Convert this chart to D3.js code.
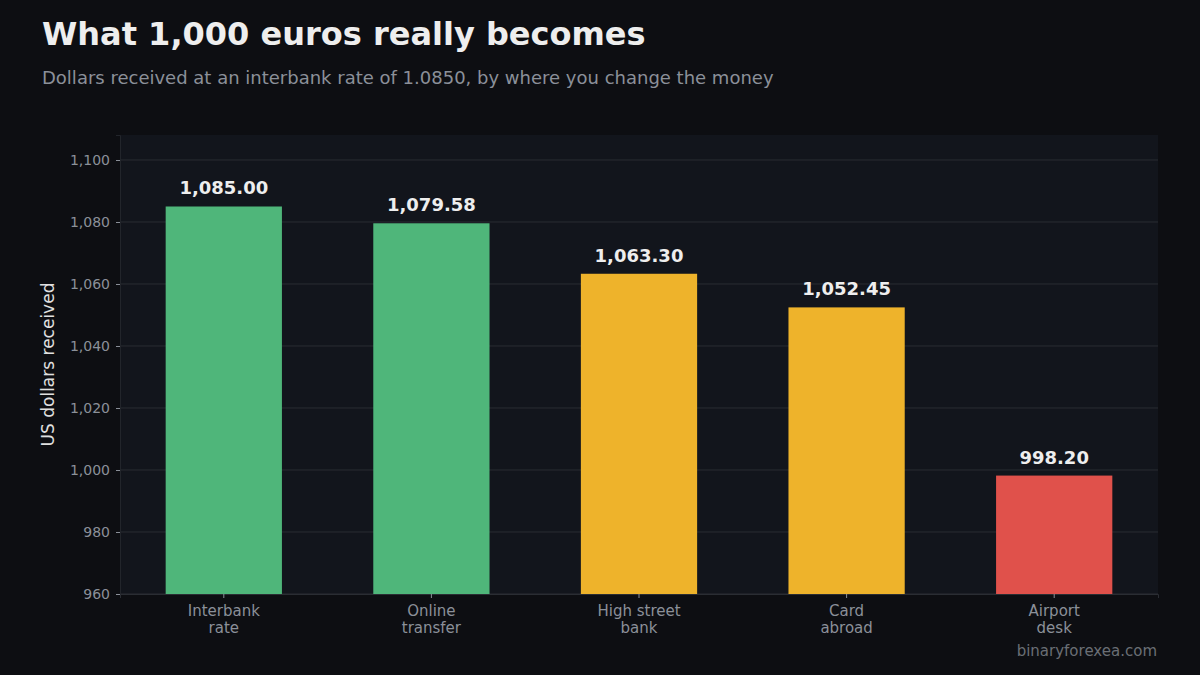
<!DOCTYPE html>
<html>
<head>
<meta charset="utf-8">
<script src="https://cdn.jsdelivr.net/npm/d3@7"></script>
<style>
  body { margin: 0; background: #0d0e12; }
  svg { display: block; font-family: "DejaVu Sans", sans-serif; }
</style>
</head>
<body>
<svg id="chart" width="1200" height="675"></svg>
<script>
/* ==== Data ==== */
var categories = ["Interbank\nrate", "Online\ntransfer", "High street\nbank", "Card\nabroad", "Airport\ndesk"];
var dollars = [1085.00, 1079.58, 1063.30, 1052.45, 998.20];
var barColors = ["#4fb67a", "#4fb67a", "#eeb32b", "#eeb32b", "#e0514b"];
var yTicks = [960, 980, 1000, 1020, 1040, 1060, 1080, 1100];

/* ==== Layout ==== */
var WIDTH = 1200, HEIGHT = 675;
var PLOT_LEFT = 120, PLOT_RIGHT = 1158, PLOT_TOP = 135, PLOT_BOTTOM = 594;

var svg = d3.select("#chart");
svg.append("rect").attr("width", WIDTH).attr("height", HEIGHT).attr("fill", "#0d0e12");

svg.append("text")
   .attr("x", 42).attr("y", 45)
   .attr("fill", "#eeeeee")
   .attr("font-size", 32).attr("font-weight", "bold")
   .text("What 1,000 euros really becomes");

svg.append("text")
   .attr("x", 42).attr("y", 84)
   .attr("fill", "#8b9099")
   .attr("font-size", 18)
   .text("Dollars received at an interbank rate of 1.0850, by where you change the money");

/* ==== Scales ==== */
var x = d3.scaleBand()
          .domain(d3.range(categories.length))
          .range([PLOT_LEFT, PLOT_RIGHT])
          .paddingInner(0.44)
          .paddingOuter(0.22);

var y = d3.scaleLinear().domain([960, 1108.06]).range([PLOT_BOTTOM, PLOT_TOP]);

svg.append("rect")
   .attr("x", PLOT_LEFT).attr("y", PLOT_TOP)
   .attr("width", PLOT_RIGHT - PLOT_LEFT).attr("height", PLOT_BOTTOM - PLOT_TOP)
   .attr("fill", "#12151c");

// gridlines
svg.append("g")
   .selectAll("line")
   .data(yTicks)
   .enter()
   .append("line")
   .attr("x1", PLOT_LEFT).attr("x2", PLOT_RIGHT)
   .attr("y1", d => y(d)).attr("y2", d => y(d))
   .attr("stroke", "#2a2d33").attr("stroke-width", 1);

/* ==== Axes ==== */
var yAxis = svg.append("g")
               .attr("transform", "translate(" + PLOT_LEFT + ",0)")
               .call(d3.axisLeft(y).tickValues(yTicks).tickSize(4).tickPadding(6).tickFormat(d3.format(",")));
yAxis.select(".domain").attr("stroke", "#22252b");
yAxis.selectAll(".tick line").attr("stroke", "#8b9099");
yAxis.selectAll("text").attr("fill", "#8b9099").attr("font-size", 14).attr("font-family", "DejaVu Sans");

var xAxis = svg.append("g")
               .attr("transform", "translate(0," + PLOT_BOTTOM + ")")
               .call(d3.axisBottom(x).tickSize(4).tickPadding(6).tickFormat(""));
xAxis.select(".domain").attr("stroke", "#2a2d33");
xAxis.selectAll(".tick line").attr("stroke", "#8b9099");
xAxis.selectAll(".tick text").remove();
xAxis.selectAll(".tick")
     .append("text")
     .attr("fill", "#8b9099")
     .attr("font-size", 15)
     .attr("font-family", "DejaVu Sans")
     .attr("text-anchor", "middle")
     .selectAll("tspan")
     .data(i => categories[i].split("\n"))
     .enter()
     .append("tspan")
     .attr("x", 0)
     .attr("y", (d, j) => 22 + j * 17)
     .text(d => d);

svg.append("text")
   .attr("transform", "translate(54," + ((PLOT_TOP + PLOT_BOTTOM) / 2) + ") rotate(-90)")
   .attr("text-anchor", "middle")
   .attr("fill", "#e0e0e0")
   .attr("font-size", 17)
   .text("US dollars received");

/* ==== Bars ==== */
svg.append("g")
   .selectAll("rect")
   .data(dollars)
   .enter()
   .append("rect")
   .attr("x", (d, i) => x(i))
   .attr("width", x.bandwidth())
   .attr("y", d => y(d))
   .attr("height", d => PLOT_BOTTOM - y(d))
   .attr("fill", (d, i) => barColors[i]);

svg.append("g")
   .selectAll("text")
   .data(dollars)
   .enter()
   .append("text")
   .attr("x", (d, i) => x(i) + x.bandwidth() / 2)
   .attr("y", d => y(d) - 12)
   .attr("text-anchor", "middle")
   .attr("fill", "#eeeeee")
   .attr("font-size", 18).attr("font-weight", "bold")
   .text(d => d3.format(",.2f")(d));

svg.append("text")
   .attr("x", 1157).attr("y", 656)
   .attr("text-anchor", "end")
   .attr("fill", "#6a6e75")
   .attr("font-size", 15)
   .text("binaryforexea.com");
</script>
</body>
</html>
